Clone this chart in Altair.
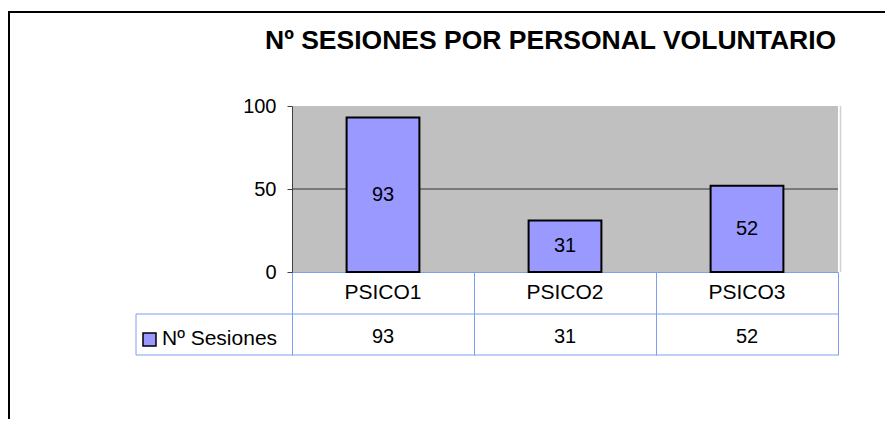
import altair as alt
import pandas as pd

# ---- data ----
TITLE = "Nº SESIONES POR PERSONAL VOLUNTARIO"
SERIES = "Nº Sesiones"
CATEGORIES = ["PSICO1", "PSICO2", "PSICO3"]
VALUES = [93, 31, 52]
Y_TICKS = [0, 50, 100]
GRID_AT = [50]

BAR = "#9999FF"
BLUE = "#7F9EF0"
FONT = "Liberation Sans"

df = pd.DataFrame({"cat": CATEGORIES, "value": VALUES})
one = pd.DataFrame({"k": [0]})
grid_df = pd.DataFrame({"g": GRID_AT})

W, H = 546, 166

xscale = alt.Scale(domain=CATEGORIES, paddingInner=0, paddingOuter=0)
yscale = alt.Scale(domain=[0, 100], nice=False)

x_enc = alt.X(
    "cat:N", scale=xscale, sort=CATEGORIES,
    axis=alt.Axis(labels=False, title=None, domainColor=BLUE, tickColor=BLUE,
                  tickSize=83, tickBand="extent", domainWidth=1, tickWidth=1),
)
y_enc = alt.Y(
    "value:Q", scale=yscale,
    axis=alt.Axis(values=Y_TICKS, title=None, grid=False, tickSize=5,
                  labelPadding=11, domainColor="#404040", tickColor="#404040",
                  labelFont=FONT, labelFontSize=20, labelColor="black"),
)

grid = alt.Chart(grid_df).mark_rule(color="#333333", strokeWidth=1).encode(
    y=alt.Y("g:Q", scale=yscale)
)

bars = alt.Chart(df).mark_bar(
    fill=BAR, stroke="black", strokeWidth=2, width=alt.RelativeBandSize(0.4)
).encode(x=x_enc, y=y_enc)

bar_labels = alt.Chart(df).transform_calculate(mid="datum.value / 2").mark_text(
    font=FONT, fontSize=20, color="black", baseline="middle"
).encode(
    x=alt.X("cat:N", scale=xscale, sort=CATEGORIES),
    y=alt.Y("mid:Q", scale=yscale),
    text="value:Q",
)

right_edge = alt.Chart(one).mark_rule(color="#D0D0D0", strokeWidth=1.5).encode(
    x=alt.value(W + 2.5), y=alt.value(0), y2=alt.value(H)
)

cat_row = alt.Chart(df).mark_text(
    font=FONT, fontSize=21, color="black", baseline="alphabetic"
).encode(
    x=alt.X("cat:N", scale=xscale, sort=CATEGORIES),
    y=alt.value(193),
    text="cat:N",
)

val_row = alt.Chart(df).mark_text(
    font=FONT, fontSize=20, color="black", baseline="alphabetic"
).encode(
    x=alt.X("cat:N", scale=xscale, sort=CATEGORIES),
    y=alt.value(237),
    text="value:Q",
)

h1 = alt.Chart(one).mark_rule(color=BLUE, strokeWidth=1).encode(
    x=alt.value(-156), x2=alt.value(W), y=alt.value(208)
)
h2 = alt.Chart(one).mark_rule(color=BLUE, strokeWidth=1).encode(
    x=alt.value(-156), x2=alt.value(W), y=alt.value(249)
)
v1 = alt.Chart(one).mark_rule(color=BLUE, strokeWidth=1).encode(
    x=alt.value(-156), y=alt.value(208), y2=alt.value(249)
)

swatch = alt.Chart(one).mark_rect(fill=BAR, stroke="black", strokeWidth=1.5).encode(
    x=alt.value(-149), x2=alt.value(-136), y=alt.value(227), y2=alt.value(240)
)
series_label = alt.Chart(pd.DataFrame({"s": [SERIES]})).mark_text(
    font=FONT, fontSize=21, color="black", align="left", baseline="alphabetic"
).encode(x=alt.value(-130), y=alt.value(239), text="s:N")

title = alt.Chart(pd.DataFrame({"t": [TITLE]})).mark_text(
    font=FONT, fontSize=26.5, fontWeight="bold", color="black", align="left",
    baseline="alphabetic"
).encode(x=alt.value(-27), y=alt.value(-57), text="t:N")

border_top = alt.Chart(one).mark_rule(color="black", strokeWidth=2).encode(
    x=alt.value(-284), x2=alt.value(620), y=alt.value(-94)
)
border_left = alt.Chart(one).mark_rule(color="black", strokeWidth=2).encode(
    x=alt.value(-283), y=alt.value(-95), y2=alt.value(400)
)

chart = alt.layer(
    grid, bars, bar_labels, right_edge, cat_row, val_row, h1, h2, v1,
    swatch, series_label, title, border_top, border_left,
).properties(
    width=W, height=H,
    padding={"left": 284, "top": 98, "right": 47, "bottom": 147},
    autosize=alt.AutoSizeParams(type="none"),
    background="white",
).configure_view(fill="#C0C0C0", strokeWidth=0)

chart.save("out.html", embed_options={"renderer": "svg", "actions": False})
